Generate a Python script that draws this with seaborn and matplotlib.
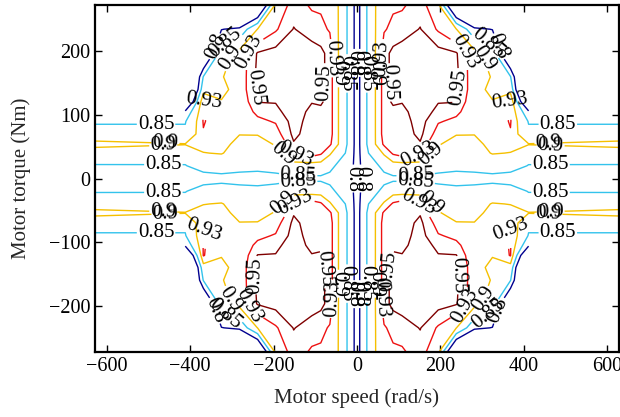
import numpy as np
import matplotlib
matplotlib.use("Agg")
import matplotlib.pyplot as plt
import seaborn as sns

# ---- data: efficiency for one quadrant (speed >= 0, torque >= 0),
# the map is symmetric in speed and torque
speed_nodes = [0, 21.7, 43.3, 65, 86.7, 108.3, 151.7, 195, 238.3, 281.7, 325, 368.3, 411.7, 628.3]
torque_nodes = [0, 20, 40, 54, 70, 90, 105, 121, 140, 160, 197, 235, 273]
nan = np.nan
eff_t0   = [0.78, 0.82, 0.82, 0.83, 0.84, 0.84, 0.84, 0.835, 0.83, 0.83, 0.835, 0.83, 0.82, 0.82]
eff_t20  = [0.78, 0.83, 0.835, 0.87, 0.885, 0.885, 0.885, 0.87, 0.865, 0.87, 0.875, 0.87, 0.848, 0.848]
eff_t40  = [0.78, 0.84, 0.875, 0.905, 0.935, 0.945, 0.935, 0.885, 0.88, 0.885, 0.902, 0.899, 0.87, 0.868]
eff_t54  = [0.78, 0.845, 0.898, 0.935, 0.94, 0.94, 0.948, 0.903, 0.885, 0.89, 0.91, 0.91, 0.902, 0.918]
eff_t70  = [0.78, 0.845, 0.898, 0.942, 0.94, 0.94, 0.955, 0.92, 0.902, 0.901, 0.905, 0.928, 0.86, 0.86]
eff_t90  = [0.78, 0.845, 0.898, 0.942, 0.942, 0.942, 0.958, 0.932, 0.925, 0.915, 0.915, 0.932, 0.847, 0.847]
eff_t105 = [0.78, 0.845, 0.898, 0.942, 0.945, 0.945, 0.96, 0.945, 0.935, 0.915, 0.915, 0.932, 0.81, 0.83]
eff_t121 = [0.78, 0.845, 0.898, 0.942, 0.953, 0.951, 0.965, 0.951, 0.951, 0.91, 0.902, 0.932, 0.7, nan]
eff_t140 = [0.78, 0.845, 0.898, 0.942, 0.956, 0.962, 0.965, 0.962, 0.955, 0.915, 0.89, 0.885, 0.6, nan]
eff_t160 = [0.78, 0.845, 0.898, 0.942, 0.956, 0.962, 0.965, 0.962, 0.955, 0.915, 0.898, 0.853, 0.6, nan]
eff_t197 = [0.78, 0.845, 0.898, 0.942, 0.956, 0.96, 0.965, 0.958, 0.952, 0.915, 0.88, 0.7, 0.6, nan]
eff_t235 = [0.78, 0.845, 0.898, 0.928, 0.935, 0.94, 0.951, 0.927, 0.901, 0.812, 0.798, 0.6, nan, nan]
eff_t273 = [0.78, 0.845, 0.898, 0.925, 0.927, 0.927, 0.94, 0.91, 0.69, 0.6, 0.6, nan, nan, nan]

levels = [0.8, 0.85, 0.9, 0.93, 0.95]
level_colors = ["#00008f", "#33c3ec", "#f5c000", "#ee1111", "#7f0000"]
xticks = [-600, -400, -200, 0, 200, 400, 600]
yticks = [-200, -100, 0, 100, 200]

# ---- assemble the full map by mirroring
quad = np.array([eff_t0, eff_t20, eff_t40, eff_t54, eff_t70, eff_t90, eff_t105,
                 eff_t121, eff_t140, eff_t160, eff_t197, eff_t235, eff_t273])
S = np.array(speed_nodes)
T = np.array(torque_nodes)
S_full = np.concatenate([-S[::-1], S[1:]])
T_full = np.concatenate([-T[::-1], T[1:]])
Zs = np.hstack([quad[:, ::-1], quad[:, 1:]])
Z = np.vstack([Zs[::-1, :], Zs[1:, :]])
Z = np.ma.masked_invalid(Z)

sns.set_style("ticks")
plt.rcParams["font.family"] = ["Liberation Serif", "DejaVu Serif"]

fig = plt.figure(figsize=(6.2, 4.17), dpi=100)
ax = fig.add_axes([0.1532, 0.1559, 0.845, 0.832])
ax.set_xlim(-628.3, 628.3)
ax.set_ylim(-273, 273)

cs = ax.contour(S_full, T_full, Z, levels=levels, colors=level_colors,
                linewidths=1.0, corner_mask=False)

# label positions spread along every contour piece (MATLAB-like dense labelling)
trans = ax.transData
inv = trans.inverted()
spacing = 105.0
positions = []
for segs in cs.allsegs:
    for seg in segs:
        if len(seg) < 2:
            continue
        pts = trans.transform(seg)
        d = np.hypot(*np.diff(pts, axis=0).T)
        cum = np.concatenate([[0.0], np.cumsum(d)])
        L = cum[-1]
        if L < 40:
            continue
        n = max(1, int(L // spacing))
        for tl in (np.arange(n) + 0.5) * L / n:
            i = min(np.searchsorted(cum, tl), len(cum) - 1)
            i = max(i, 1)
            f = (tl - cum[i - 1]) / max(d[i - 1], 1e-9)
            p = pts[i - 1] + f * (pts[i] - pts[i - 1])
            positions.append(tuple(inv.transform(p)))

labels = ax.clabel(cs, fmt="%g", fontsize=15, inline=True, inline_spacing=1,
                   colors="black", manual=positions)

ax.set_xticks(xticks)
ax.set_yticks(yticks)
ax.tick_params(direction="in", top=True, right=True, length=5, width=1,
               labelsize=14.5, colors="black")
for sp in ax.spines.values():
    sp.set_linewidth(1.6)
    sp.set_color("black")
ax.set_xlabel("Motor speed (rad/s)", fontsize=15, labelpad=9)
ax.set_ylabel("Motor torque (Nm)", fontsize=15, labelpad=13)

fig.savefig("out.png", dpi=100)
